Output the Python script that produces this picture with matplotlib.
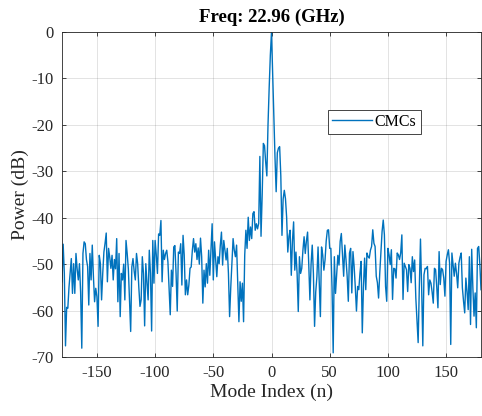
import matplotlib
matplotlib.use("Agg")
import matplotlib.pyplot as plt
import numpy as np

plt.rcParams['font.family'] = ['Liberation Serif', 'DejaVu Serif']
plt.rcParams['axes.unicode_minus'] = False

# power per mode index (n = -180 ... 180)
left_far = [-53.8, -45.7, -52.0, -67.6, -59.3, -59.5, -55.0, -52.0, -48.8, -56.3,
            -49.9, -56.3, -47.7, -51.0, -53.4, -49.9, -56.0, -68.1, -47.7, -45.2,
            -45.6, -49.0, -50.5, -58.8, -47.7, -53.4, -45.9, -52.7, -58.1, -55.2,
            -57.0, -63.4, -48.1, -49.9, -57.7, -52.0, -47.4, -45.5, -43.3, -53.8,
            -46.6, -48.5, -50.9, -48.1, -53.4, -49.0, -51.0, -44.5, -58.1, -47.7,
            -61.3, -52.0, -53.4, -50.0, -57.7, -44.9, -47.7, -51.0, -57.7, -64.5]
left_mid = [-50.6, -48.8, -51.5, -53.4, -47.7, -49.9, -55.0, -59.1, -57.7, -48.4,
            -52.0, -63.3, -49.9, -54.0, -57.7, -47.0, -52.0, -64.4, -44.9, -54.1,
            -44.9, -48.0, -52.0, -43.5, -43.8, -40.6, -53.8, -47.0, -49.0, -47.7,
            -47.0, -49.5, -55.0, -60.9, -51.3, -54.8, -46.3, -46.0, -52.0, -60.1,
            -47.4, -47.7, -45.6, -54.5, -43.8, -48.0, -56.6, -53.4, -56.6, -54.5,
            -50.9, -50.6, -47.0, -44.5, -47.4, -45.6, -49.0, -46.5, -50.0, -44.4]
left_near = [-48.4, -58.4, -51.3, -54.9, -49.9, -54.1, -47.0, -52.4, -47.0, -41.3,
             -53.4, -45.2, -49.0, -52.7, -48.4, -49.9, -46.0, -43.1, -50.2, -44.9,
             -47.0, -49.1, -46.6, -52.0, -61.3, -55.0, -49.9, -44.5, -47.0, -48.4,
             -45.9, -54.0, -62.4, -53.8, -58.0, -54.1, -62.4, -48.0, -42.7, -46.6,
             -39.9, -44.9, -42.0, -44.5, -39.1, -38.7, -42.7, -41.3, -42.4, -41.2]
center = [-26.8, -44.0, -35.0, -24.0, -24.5, -28.0, -31.0, -20.0, -12.0, -5.0,
          0.0,
          -9.0, -18.5, -27.0, -34.4, -26.0, -25.0, -24.7, -31.0, -43.8, -36.0]
right_near = [-34.1, -35.9, -39.9, -47.4, -44.0, -42.7, -52.4, -45.0, -40.9, -51.3,
              -47.4, -52.0, -60.2, -48.4, -52.0, -50.9, -47.0, -44.1, -47.7, -45.0,
              -43.1, -50.0, -57.7, -50.0, -45.9, -52.0, -63.4, -56.0, -52.7, -46.3,
              -54.0, -61.3, -46.3, -48.0, -51.3, -49.1, -45.0, -42.7, -42.6, -46.6,
              -46.6, -55.0, -69.1, -48.4, -56.3, -52.0, -48.1, -50.2, -45.1, -43.4]
right_mid = [-48.0, -52.6, -45.9, -49.0, -52.6, -58.0, -47.6, -46.6, -56.2, -47.3,
             -50.5, -55.0, -60.1, -54.8, -55.5, -52.0, -49.4, -64.8, -55.0, -48.7,
             -55.5, -47.6, -48.4, -48.7, -47.0, -46.2, -42.6, -45.5, -46.2, -52.6,
             -54.0, -57.3, -52.0, -47.6, -43.0, -40.5, -43.7, -54.8, -58.0, -46.6,
             -48.0, -50.1, -46.9, -57.6, -50.9, -51.0, -53.0, -47.6, -48.0, -49.0,
             -47.6, -43.7, -57.6, -49.8, -50.5, -51.2, -55.9, -50.1]
right_far = [-50.9, -54.0, -48.4, -51.6, -49.1, -57.3, -62.0, -66.9, -55.0, -44.6,
             -55.0, -67.6, -52.3, -50.9, -51.0, -50.5, -56.6, -53.4, -54.1, -56.0,
             -58.4, -50.9, -51.2, -55.0, -59.4, -47.3, -54.4, -50.9, -51.2, -53.0,
             -56.9, -49.4, -48.0, -46.9, -49.8, -67.3, -47.6, -50.0, -52.6, -49.8,
             -52.0, -55.1, -49.8, -48.5, -47.6, -55.1, -58.0, -60.5, -53.0, -56.0,
             -59.8, -48.4, -63.0, -46.8, -55.0, -61.2, -56.2, -63.7, -46.6, -46.2,
             -50.0, -55.5]

power = np.array(left_far + left_mid + left_near + center + right_near + right_mid + right_far)
modes = np.arange(-180, -180 + len(power))

xticks = [-150, -100, -50, 0, 50, 100, 150]
yticks = [0, -10, -20, -30, -40, -50, -60, -70]

fig = plt.figure(figsize=(4.82, 4.16), dpi=100)
ax = fig.add_axes([62/482, 1 - 357/416, 419/482, 325/416])

ax.plot(modes, power, color='#0072BD', lw=1.0, label='CMCs')

ax.set_xlim(-180, 180)
ax.set_ylim(-70, 0)
ax.set_xticks(xticks)
ax.set_yticks(yticks)
ax.grid(True, color='#262626', alpha=0.15, lw=0.6)
ax.tick_params(direction='in', length=3, width=0.6, labelsize=12, colors='#262626',
               top=True, right=True, labeltop=False, labelright=False, pad=6)
for s in ax.spines.values():
    s.set_color('#262626')
    s.set_linewidth(0.6)

ax.set_title('Freq: 22.96 (GHz)', fontsize=13.5, fontweight='bold', pad=7)
ax.set_xlabel('Mode Index (n)', fontsize=14, labelpad=2, color='#262626')
ax.set_ylabel('Power (dB)', fontsize=14, labelpad=2, color='#262626')

leg = ax.legend(loc='upper left', bbox_to_anchor=(0.636, 0.76), fontsize=11.5,
                fancybox=False, edgecolor='#262626', framealpha=1,
                handlelength=2.5, handletextpad=0.15, borderpad=0.25,
                borderaxespad=0)
leg.get_frame().set_linewidth(0.6)

fig.savefig('out.png', dpi=100)
